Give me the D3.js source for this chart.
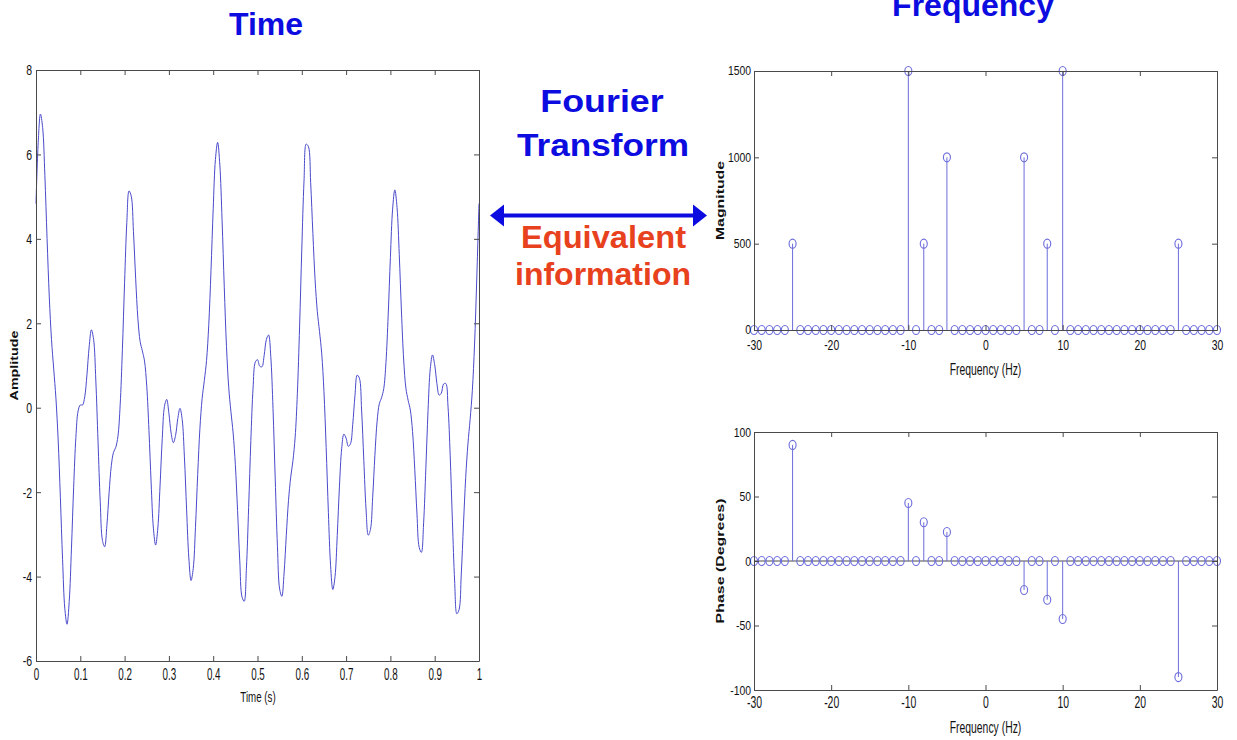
<!DOCTYPE html>
<html>
<head>
<meta charset="utf-8">
<script src="https://cdn.jsdelivr.net/npm/d3@7"></script>
<style>
  body { margin: 0; background: #fff; }
  svg { display: block; }
</style>
</head>
<body>
<script>

//  Data

// time signal, one sample every 5 ms from 0 s to 1 s
var sampleStep = 0.005;
var amplitude = [
   4.835,  6.288,  6.957,  6.638,  5.504,  4.005,  2.620,  1.612,  0.914,  0.223,
  -0.763, -2.120, -3.603, -4.749, -5.129, -4.588, -3.344, -1.882, -0.705, -0.081,
   0.065,  0.063,  0.258,  0.780,  1.442,  1.846,  1.620,  0.655, -0.794, -2.228,
  -3.143, -3.294, -2.791, -2.015, -1.373, -1.056, -0.938, -0.674,  0.068,  1.371,
   2.974,  4.388,  5.136,  5.011,  4.173,  3.054,  2.109,  1.572,  1.348,  1.104,
   0.510, -0.536, -1.806, -2.853, -3.254, -2.850, -1.854, -0.732,  0.032,  0.197,
  -0.134, -0.600, -0.828, -0.660, -0.261, -0.015, -0.280, -1.166, -2.421, -3.559,
  -4.094, -3.805, -2.831, -1.581, -0.492,  0.217,  0.646,  1.123,  1.964,  3.246,
   4.712,  5.878,  6.286,  5.748,  4.451,  2.855,  1.446,  0.486, -0.092, -0.599,
  -1.351, -2.436, -3.627, -4.480, -4.585, -3.801, -2.365, -0.772,  0.466,  1.078,
   1.139,  0.984,  0.969,  1.236,  1.614,  1.723,  1.210, -0.016, -1.684, -3.281,
  -4.293, -4.468, -3.917, -3.021, -2.195, -1.644, -1.254, -0.698,  0.337,  1.915,
   3.761,  5.367,  6.246,  6.182,  5.332,  4.128,  3.030,  2.283,  1.804,  1.276,
   0.387, -0.946, -2.477, -3.743, -4.307, -4.000, -3.028, -1.858, -0.974, -0.625,
  -0.722, -0.916, -0.852, -0.391,  0.283,  0.772,  0.699, -0.056, -1.250, -2.400,
  -3.020, -2.884, -2.120, -1.125, -0.320,  0.094,  0.236,  0.452,  1.074,  2.193,
   3.562,  4.704,  5.160,  4.742,  3.629,  2.267,  1.130,  0.462,  0.177, -0.055,
  -0.564, -1.457, -2.517, -3.309, -3.426, -2.727, -1.444, -0.061,  0.922,  1.250,
   1.016,  0.574,  0.298,  0.346,  0.561,  0.573,  0.036, -1.142, -2.690, -4.103,
  -4.881, -4.784, -3.941, -2.752, -1.651, -0.857, -0.275,  0.412,  1.508,  3.074,
   4.835
];

// spectrum bins (1 Hz apart)
var freqHz = [
  -30, -29, -28, -27, -26, -25, -24, -23, -22, -21,
  -20, -19, -18, -17, -16, -15, -14, -13, -12, -11,
  -10,  -9,  -8,  -7,  -6,  -5,  -4,  -3,  -2,  -1,
    0,   1,   2,   3,   4,   5,   6,   7,   8,   9,
   10,  11,  12,  13,  14,  15,  16,  17,  18,  19,
   20,  21,  22,  23,  24,  25,  26,  27,  28,  29,
   30
];
var magnitude = [
     0,   0,   0,   0,   0, 500,   0,   0,   0,   0,
     0,   0,   0,   0,   0,   0,   0,   0,   0,   0,
  1500,   0, 500,   0,   0,1000,   0,   0,   0,   0,
     0,   0,   0,   0,   0,1000,   0,   0, 500,   0,
  1500,   0,   0,   0,   0,   0,   0,   0,   0,   0,
     0,   0,   0,   0,   0, 500,   0,   0,   0,   0,
     0
];
var phaseDeg = [
    0,   0,   0,   0,   0,  90,   0,   0,   0,   0,
    0,   0,   0,   0,   0,   0,   0,   0,   0,   0,
   45,   0,  30,   0,   0,22.5,   0,   0,   0,   0,
    0,   0,   0,   0,   0,-22.5,  0,   0, -30,   0,
  -45,   0,   0,   0,   0,   0,   0,   0,   0,   0,
    0,   0,   0,   0,   0, -90,   0,   0,   0,   0,
    0
];

// tick values and labels
var timeTicks = [0, 0.1, 0.2, 0.3, 0.4, 0.5, 0.6, 0.7, 0.8, 0.9, 1];
var timeTickLabels = ["0", "0.1", "0.2", "0.3", "0.4", "0.5", "0.6", "0.7", "0.8", "0.9", "1"];
var ampTicks = [-6, -4, -2, 0, 2, 4, 6, 8];
var freqTicks = [-30, -20, -10, 0, 10, 20, 30];
var magTicks = [0, 500, 1000, 1500];
var phaseTicks = [-100, -50, 0, 50, 100];


//  Aux functions

var FONT = "'Liberation Sans', Arial, Helvetica, sans-serif";
var AXIS_COLOR = "#4a4a4a";
var BLUE = "#0c0ce0";
var RED = "#e8411e";

var svg = d3.select("body").append("svg")
    .attr("width", 1237)
    .attr("height", 740);

// MATLAB-like box: ticks inward on all four sides, labels bottom and left
function drawBox(g, x, y, xTicks, xLabels, yTicks, opt){
    var x0 = x.range()[0], x1 = x.range()[1];
    var y0 = y.range()[0], y1 = y.range()[1];

    var xAxis = d3.axisBottom(x).tickValues(xTicks).tickSizeInner(-5).tickSizeOuter(0)
        .tickFormat(function(d, i){ return xLabels ? xLabels[i] : String(d); });
    var yAxis = d3.axisLeft(y).tickValues(yTicks).tickSizeInner(-5).tickSizeOuter(0)
        .tickFormat(function(d){ return String(d); });

    // Add the X Axis
    var gx = g.append("g").attr("transform", "translate(0," + y0 + ")").call(xAxis);
    gx.selectAll(".tick text")
        .attr("y", 0)
        .attr("transform", "translate(0," + opt.xPad + ") scale(" + opt.xsx + "," + opt.xsy + ")");

    // Add the Y Axis
    var gy = g.append("g").attr("transform", "translate(" + x0 + ",0)").call(yAxis);
    gy.selectAll(".tick text")
        .attr("x", 0)
        .attr("transform", "translate(" + (-opt.yPad) + ",0) scale(" + opt.ysx + "," + opt.ysy + ")");

    // top and right edges, ticks only
    var gt = g.append("g").attr("transform", "translate(0," + y1 + ")")
        .call(d3.axisTop(x).tickValues(xTicks).tickSizeInner(-5).tickSizeOuter(0).tickFormat(""));
    var gr = g.append("g").attr("transform", "translate(" + x1 + ",0)")
        .call(d3.axisRight(y).tickValues(yTicks).tickSizeInner(-5).tickSizeOuter(0).tickFormat(""));

    [gx, gy, gt, gr].forEach(function(a){
        a.attr("font-family", FONT).attr("font-size", opt.size);
        a.select(".domain").attr("stroke", AXIS_COLOR);
        a.selectAll(".tick line").attr("stroke", AXIS_COLOR);
        a.selectAll(".tick text").attr("fill", "#111");
    });
}

function axisTitle(text, cx, baseline, sx, sy){
    svg.append("text")
        .attr("transform", "translate(" + cx + "," + baseline + ") scale(" + sx + "," + sy + ")")
        .attr("text-anchor", "middle")
        .attr("font-family", FONT)
        .attr("font-size", 13)
        .attr("fill", "#111")
        .text(text);
}

function sideTitle(text, bx, cy, size, stretch){
    svg.append("text")
        .attr("transform", "translate(" + bx + "," + cy + ") rotate(-90) scale(" + stretch + ",1)")
        .attr("text-anchor", "middle")
        .attr("font-family", FONT)
        .attr("font-weight", "bold")
        .attr("font-size", size)
        .attr("fill", "#111")
        .text(text);
}

function bigText(text, cx, baseline, color, sx){
    svg.append("text")
        .attr("transform", "translate(" + cx + "," + baseline + ") scale(" + sx + ",1)")
        .attr("text-anchor", "middle")
        .attr("font-family", FONT)
        .attr("font-weight", "bold")
        .attr("font-size", 32)
        .attr("fill", color)
        .text(text);
}

function drawStems(g, x, y, values, withBaseline){
    var stemColor = "#6c6cdc";
    if(withBaseline){
        g.append("line")
            .attr("x1", x.range()[0]).attr("x2", x.range()[1])
            .attr("y1", y(0)).attr("y2", y(0))
            .attr("stroke", AXIS_COLOR);
    }
    g.selectAll("line.stem")
        .data(freqHz)
        .enter()
        .append("line")
        .attr("class", "stem")
        .attr("x1", function(d){ return x(d); })
        .attr("x2", function(d){ return x(d); })
        .attr("y1", y(0))
        .attr("y2", function(d, i){ return y(values[i]); })
        .attr("stroke", stemColor)
        .attr("stroke-width", 1);
    g.selectAll("ellipse.head")
        .data(freqHz)
        .enter()
        .append("ellipse")
        .attr("class", "head")
        .attr("cx", function(d){ return x(d); })
        .attr("cy", function(d, i){ return y(values[i]); })
        .attr("rx", 3.5)
        .attr("ry", 4.5)
        .attr("fill", "none")
        .attr("stroke", stemColor)
        .attr("stroke-width", 1.1);
}


//  TIME PLOT

var xTime = d3.scaleLinear().domain([0, 1]).range([36, 479]);
var yAmp = d3.scaleLinear().domain([-6, 8]).range([661, 70]);

var gTime = svg.append("g");

var line = d3.line()
    .x(function(d, i){ return xTime(i * sampleStep); })
    .y(function(d){ return yAmp(d); })
    .curve(d3.curveCatmullRom);

gTime.append("path")
    .datum(amplitude)
    .attr("d", line)
    .attr("fill", "none")
    .attr("stroke", "#4a4acc")
    .attr("stroke-width", 1);

drawBox(gTime, xTime, yAmp, timeTicks, timeTickLabels, ampTicks,
    {size: 14, xPad: 8, xsx: 0.7, xsy: 1.12, yPad: 4, ysx: 0.75, ysy: 1.1});

axisTitle("Time (s)", 258, 702, 0.75, 1.15);
sideTitle("Amplitude", 17.5, 365.5, 10, 1.43);


//  MAGNITUDE PLOT

var xFreq = d3.scaleLinear().domain([-30, 30]).range([754, 1217]);
var yMag = d3.scaleLinear().domain([0, 1500]).range([330, 71]);

var gMag = svg.append("g");
drawStems(gMag, xFreq, yMag, magnitude, false);
drawBox(gMag, xFreq, yMag, freqTicks, null, magTicks,
    {size: 13, xPad: 9, xsx: 0.8, xsy: 1.15, yPad: 3, ysx: 0.8, ysy: 0.95});

axisTitle("Frequency (Hz)", 985.5, 375, 0.8, 1.2);
sideTitle("Magnitude", 723.5, 200.5, 11, 1.44);


//  PHASE PLOT

var yPhase = d3.scaleLinear().domain([-100, 100]).range([690, 432]);

var gPhase = svg.append("g");
drawStems(gPhase, xFreq, yPhase, phaseDeg, true);
drawBox(gPhase, xFreq, yPhase, freqTicks, null, phaseTicks,
    {size: 13, xPad: 6, xsx: 0.8, xsy: 1.25, yPad: 3, ysx: 0.8, ysy: 1.05});

axisTitle("Frequency (Hz)", 985.5, 733, 0.8, 1.2);
sideTitle("Phase (Degrees)", 723.5, 561, 11, 1.45);


//  TITLES, ARROW

bigText("Time", 266, 35, BLUE, 1.0);
bigText("Frequency", 973, 16, BLUE, 1.0);
bigText("Fourier", 602, 112, BLUE, 1.12);
bigText("Transform", 603, 156, BLUE, 1.1);
bigText("Equivalent", 603.5, 248, RED, 1.02);
bigText("information", 603, 285, RED, 1.0);

var arrowY = 215.5;
svg.append("line")
    .attr("x1", 500).attr("x2", 697)
    .attr("y1", arrowY).attr("y2", arrowY)
    .attr("stroke", BLUE)
    .attr("stroke-width", 4);
svg.append("path")
    .attr("d", "M490," + arrowY + " L504," + (arrowY - 11) + " L504," + (arrowY + 11) + " Z")
    .attr("fill", BLUE);
svg.append("path")
    .attr("d", "M707," + arrowY + " L693," + (arrowY - 11) + " L693," + (arrowY + 11) + " Z")
    .attr("fill", BLUE);

</script>
</body>
</html>
